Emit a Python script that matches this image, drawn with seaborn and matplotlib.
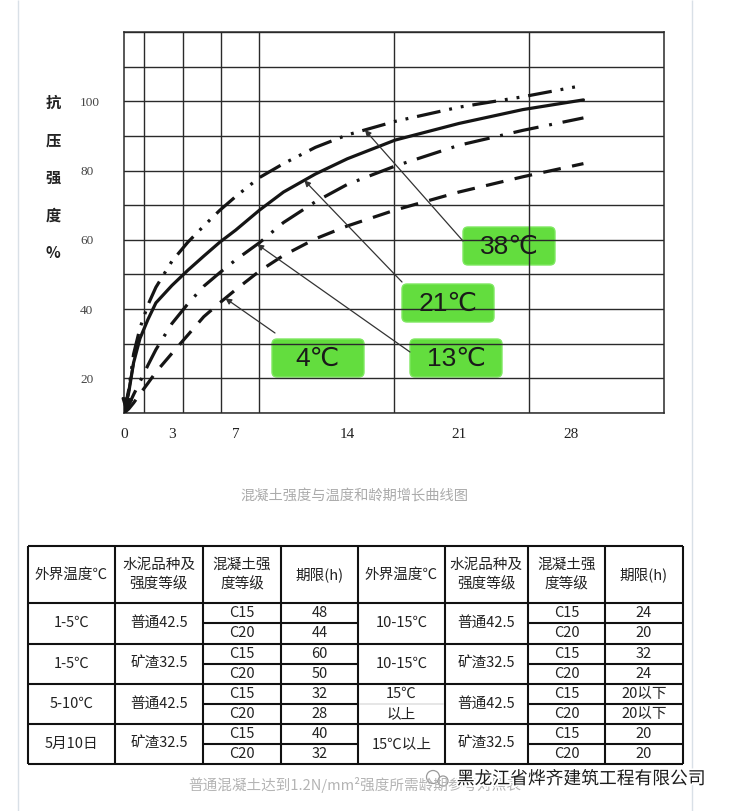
import matplotlib
matplotlib.use("Agg")
import matplotlib.pyplot as plt
import matplotlib.patheffects as pe
from matplotlib.patches import FancyBboxPatch, Circle
import numpy as np
import pandas as pd
import seaborn as sns

# strength growth curves (age in days, % strength)
TEMPS = ["38℃", "21℃", "13℃", "4℃"]
DAYS = [0, 0.3, 0.6, 1, 1.5, 2, 3, 4, 5, 6, 7, 8.5, 10, 12, 14, 17, 21, 25, 28.8]
STRENGTH_38 = [10, 16.8, 27, 34.5, 41.2, 46.3, 53.8, 59.3, 64, 68.5, 72.5, 78, 82, 86.7, 90.3, 94.2, 98.3, 101.3, 104.6]
STRENGTH_21 = [10, 16, 24.5, 31.5, 37, 41.8, 46.8, 51.2, 55.3, 59.3, 62.8, 68.6, 73.8, 79, 83.4, 88.8, 93.6, 97.6, 100.4]
STRENGTH_13 = [10, 12.3, 15.3, 19, 23.8, 28.3, 35.8, 41.5, 46.6, 50.5, 54.2, 59.2, 65, 71, 76, 81.3, 87.3, 91.6, 95.2]
STRENGTH_4 = [10, 11.2, 12.9, 15.5, 18.6, 21.8, 27.2, 32.5, 37.8, 41.8, 45.6, 51, 55.5, 60.3, 64, 68.6, 73.8, 78.2, 82]
X_TICKS = [0, 3, 7, 14, 21, 28]
Y_TICKS = [20, 40, 60, 80, 100]
Y_LABEL_CHARS = ["抗", "压", "强", "度", "%"]
CHART_CAPTION = "混凝土强度与温度和龄期增长曲线图"

# curing-time table
HEADERS = ["外界温度℃", "水泥品种及\n强度等级", "混凝土强\n度等级", "期限(h)"] * 2
GRADES = ["C15", "C20"]
TEMP_LEFT = ["1-5℃", "1-5℃", "5-10℃", "5月10日"]
CEMENT_LEFT = ["普通42.5", "矿渣32.5", "普通42.5", "矿渣32.5"]
HOURS_LEFT = [["48", "44"], ["60", "50"], ["32", "28"], ["40", "32"]]
TEMP_RIGHT = ["10-15℃", "10-15℃", "15℃\n以上", "15℃以上"]
CEMENT_RIGHT = ["普通42.5", "矿渣32.5", "普通42.5", "矿渣32.5"]
HOURS_RIGHT = [["24", "20"], ["32", "24"], ["20以下", "20以下"], ["20", "20"]]
TABLE_CAPTION = "普通混凝土达到1.2N/mm²强度所需龄期参考对照表"
WATERMARK = "黑龙江省烨齐建筑工程有限公司"

DASHES = {
    "38℃": (7.5, 2.8, 0.9, 2.8, 0.9, 2.8),
    "21℃": "",
    "13℃": (8, 3.4, 0.9, 3.4),
    "4℃": (5.6, 3.6),
}
GRID_DAYS = [1.25, 3.7, 6.05, 8.46, 16.92, 25.38]
BOX_GREEN = "#63dd3e"
INK = "#151515"
CJK = ["Noto Sans CJK SC", "DejaVu Sans"]
SERIF = ["Liberation Serif", "DejaVu Serif"]

# label boxes in page pixels: x, y, w, h; arrow tail in page pixels, tip day on the curve
CALLOUTS = {
    "38℃": ((463, 227, 92, 38), (463, 241), 15.1),
    "21℃": ((402, 284, 92, 38), (402, 282), 11.3),
    "13℃": ((410, 339, 92, 38), (410, 352), 8.35),
    "4℃": ((272, 339, 92, 38), (275, 333), 6.35),
}
COL_X = [28, 115, 203, 281, 358, 445, 528, 605, 683]
ROW_Y = [546, 603, 643.5, 684, 724, 764]


def pixel_axes(fig, zorder):
    layer = fig.add_axes([0, 0, 1, 1], zorder=zorder)
    layer.set_xlim(0, 731)
    layer.set_ylim(811, 0)
    layer.axis("off")
    return layer


def draw_chart(ax, page, top):
    curves = pd.DataFrame(
        {
            "day": DAYS * 4,
            "strength": STRENGTH_38 + STRENGTH_21 + STRENGTH_13 + STRENGTH_4,
            "temp": [t for t in TEMPS for _ in DAYS],
        }
    )
    sns.lineplot(
        data=curves, x="day", y="strength", style="temp", style_order=TEMPS,
        dashes=DASHES, color=INK, linewidth=2.3, legend=False,
        estimator=None, sort=False, ax=ax, zorder=3,
    )
    ax.set_xlim(0, 33.85)
    ax.set_ylim(10, 120)
    ax.set_xticks(X_TICKS)
    ax.set_xticks(GRID_DAYS, minor=True)
    ax.set_yticks(Y_TICKS)
    ax.set_yticks(np.arange(10, 121, 10), minor=True)
    ax.set_xticklabels([str(t) for t in X_TICKS], family=SERIF, fontsize=11, color="#222222")
    ax.set_yticklabels([str(t) for t in Y_TICKS], family=SERIF, fontsize=9.5, color="#444444", ha="left")
    ax.tick_params(axis="both", which="both", length=0)
    ax.tick_params(axis="x", pad=10.5)
    ax.tick_params(axis="y", pad=31.5)
    ax.grid(False)
    grid_style = dict(color="#2a2a2a", linewidth=1.0)
    ax.xaxis.grid(True, which="minor", **grid_style)
    ax.yaxis.grid(True, which="both", **grid_style)
    ax.set_axisbelow(True)
    ax.set_xlabel("")
    ax.set_ylabel("")
    for spine in ax.spines.values():
        spine.set_visible(True)
        spine.set_color("#2a2a2a")
        spine.set_linewidth(1.1)

    # arrowhead where the curves meet at the origin
    ax.annotate(
        "", xy=(DAYS[0] + 0.08, STRENGTH_21[0] + 0.6), xytext=(DAYS[2], STRENGTH_21[2]),
        arrowprops=dict(arrowstyle="-|>", color=INK, lw=2, mutation_scale=16, shrinkA=0, shrinkB=0),
        zorder=4,
    )

    series = dict(zip(TEMPS, [STRENGTH_38, STRENGTH_21, STRENGTH_13, STRENGTH_4]))
    for temp, (box, tail, tip_day) in CALLOUTS.items():
        x, y, w, h = box
        page.add_patch(
            FancyBboxPatch(
                (x, y), w, h, boxstyle="round,pad=0,rounding_size=5",
                facecolor=BOX_GREEN, edgecolor="#7ee860", linewidth=1.0,
            )
        )
        top.text(x + w / 2, y + h / 2 + 1, temp, ha="center", va="center",
                 fontsize=19, color="#1a1a1a", family=["Liberation Sans", "DejaVu Sans"])
        tip = (tip_day, float(np.interp(tip_day, DAYS, series[temp])))
        ax.annotate(
            "", xy=tip, xytext=tail, textcoords=page.transData,
            arrowprops=dict(arrowstyle="-|>", color="#333333", lw=0.9, mutation_scale=9,
                            shrinkA=0, shrinkB=0),
            zorder=4,
        )

    for i, char in enumerate(Y_LABEL_CHARS):
        top.text(53, 103 + i * 37.5, char, ha="center", va="center", fontsize=11,
                 fontweight="bold", family=CJK, color="#222222")

    page.text(354, 496, CHART_CAPTION, ha="center", va="center", fontsize=10.3,
              color="#ababab", family=CJK)


def cell_text(page, cx, cy, text, size=10.5):
    lines = text.split("\n")
    for k, line in enumerate(lines):
        offset = (k - (len(lines) - 1) / 2) * 20
        page.text(cx, cy + offset, line, ha="center", va="center",
                  fontsize=size, color="#222222", family=CJK)


def draw_table(page):
    line = dict(color="#111111", linewidth=1.5)
    page.hlines(ROW_Y, COL_X[0], COL_X[-1], **line)
    page.vlines(COL_X, ROW_Y[0], ROW_Y[-1], **line)
    mids = [(ROW_Y[g + 1] + ROW_Y[g + 2]) / 2 for g in range(4)]
    for left, right in ((COL_X[2], COL_X[4]), (COL_X[6], COL_X[8])):
        page.hlines(mids, left, right, **line)
    page.hlines(mids[2], COL_X[4] + 1, COL_X[5] - 1, color="#e2e2e2", linewidth=1.2)

    centers = [(COL_X[i] + COL_X[i + 1]) / 2 for i in range(8)]
    for i, head in enumerate(HEADERS):
        cell_text(page, centers[i], (ROW_Y[0] + ROW_Y[1]) / 2, head)

    for g in range(4):
        top_y, bottom_y, mid = ROW_Y[g + 1], ROW_Y[g + 2], mids[g]
        rows = [(top_y + mid) / 2, (mid + bottom_y) / 2]
        cell_text(page, centers[0], mid, TEMP_LEFT[g])
        cell_text(page, centers[1], mid, CEMENT_LEFT[g])
        cell_text(page, centers[4], mid, TEMP_RIGHT[g])
        cell_text(page, centers[5], mid, CEMENT_RIGHT[g])
        for r in range(2):
            cell_text(page, centers[2], rows[r], GRADES[r])
            cell_text(page, centers[3], rows[r], HOURS_LEFT[g][r])
            cell_text(page, centers[6], rows[r], GRADES[r])
            cell_text(page, centers[7], rows[r], HOURS_RIGHT[g][r])

    page.text(355, 785, TABLE_CAPTION, ha="center", va="center", fontsize=10.5,
              color="#b4b4b4", family=CJK)
    for cx, cy, r in ((433, 777, 6.5), (443, 781, 5)):
        page.add_patch(Circle((cx, cy), r, facecolor="white", edgecolor="#9a9a9a", linewidth=0.9))
    page.text(581, 779, WATERMARK, ha="center", va="center", fontsize=12.8,
              color="#1c1c1c", family=CJK,
              path_effects=[pe.withStroke(linewidth=2.5, foreground="white")])


def main():
    sns.set_theme(style="white")
    plt.rcParams["font.family"] = CJK
    plt.rcParams["axes.unicode_minus"] = False

    fig = plt.figure(figsize=(7.31, 8.11), dpi=100, facecolor="white")
    page = pixel_axes(fig, 0)
    ax = fig.add_axes([124 / 731, (811 - 413) / 811, 540 / 731, 381 / 811], zorder=1)
    ax.patch.set_alpha(0)
    top = pixel_axes(fig, 2)

    page.vlines([18, 692], 0, 811, color="#d9e0e7", linewidth=1.0)
    draw_chart(ax, page, top)
    draw_table(page)
    fig.savefig("out.png", dpi=100, facecolor="white")


if __name__ == "__main__":
    main()
